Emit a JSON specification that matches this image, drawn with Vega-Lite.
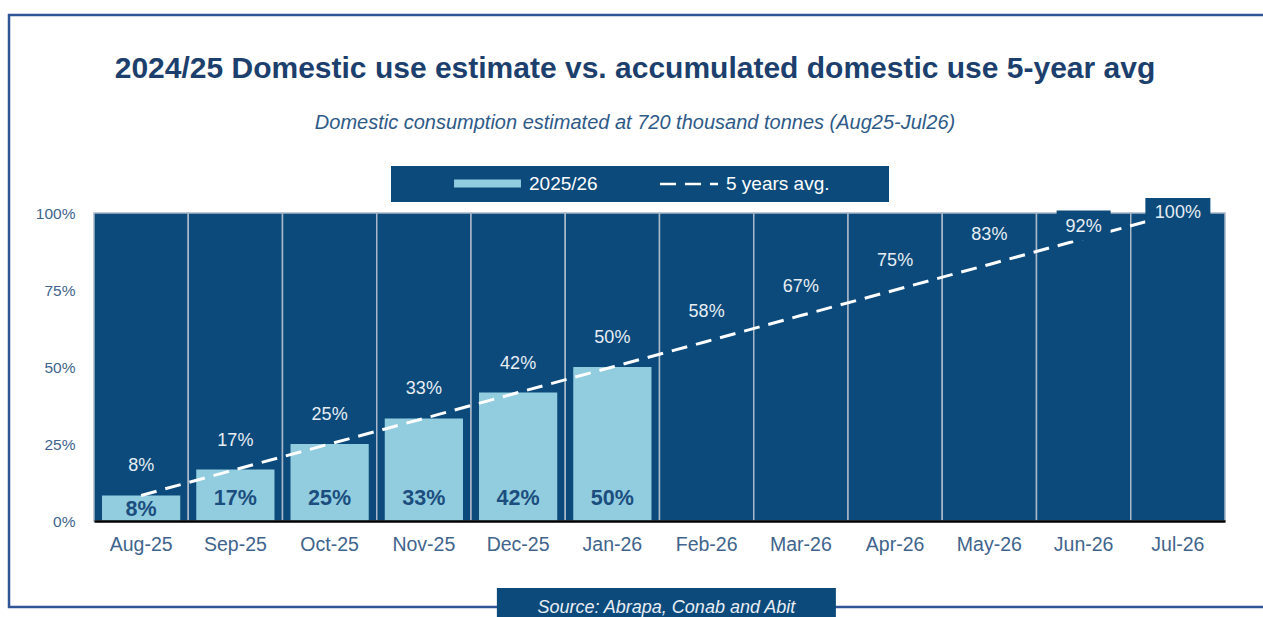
{
  "$schema": "https://vega.github.io/schema/vega-lite/v6.json",
  "width": 1268,
  "height": 592,
  "autosize": {"type": "none"},
  "padding": {"left": 9, "top": 15, "right": 0, "bottom": 10},
  "background": "white",
  "view": {"stroke": "#2F5597", "strokeWidth": 2.5, "fill": "white"},
  "title": {
    "text": "2024/25 Domestic use estimate vs. accumulated domestic use 5-year avg",
    "subtitle": "Domestic consumption estimated at 720 thousand tonnes (Aug25-Jul26)",
    "anchor": "middle",
    "dx": -8,
    "offset": -118,
    "font": "Liberation Sans",
    "fontSize": 30,
    "fontWeight": "bold",
    "color": "#1C3F6E",
    "subtitleFont": "Liberation Sans",
    "subtitleFontSize": 20,
    "subtitleFontStyle": "italic",
    "subtitleColor": "#2E5A88",
    "subtitlePadding": 29
  },
  "data": {
    "values": [
      {"month": "Aug-25", "use": 0.083, "avg": 0.083},
      {"month": "Sep-25", "use": 0.167, "avg": 0.167},
      {"month": "Oct-25", "use": 0.25, "avg": 0.25},
      {"month": "Nov-25", "use": 0.333, "avg": 0.333},
      {"month": "Dec-25", "use": 0.417, "avg": 0.417},
      {"month": "Jan-26", "use": 0.5, "avg": 0.5},
      {"month": "Feb-26", "use": null, "avg": 0.583},
      {"month": "Mar-26", "use": null, "avg": 0.667},
      {"month": "Apr-26", "use": null, "avg": 0.75},
      {"month": "May-26", "use": null, "avg": 0.833},
      {"month": "Jun-26", "use": null, "avg": 0.917},
      {"month": "Jul-26", "use": null, "avg": 1.0}
    ]
  },
  "layer": [
    {
      "mark": {"type": "rect", "fill": "#0B4A7B", "stroke": "#A9B8C8", "strokeWidth": 1.5},
      "encoding": {
        "x": {
          "field": "month", "type": "nominal", "sort": null,
          "scale": {"range": [85, 1216], "paddingInner": 0, "paddingOuter": 0},
          "axis": {
            "title": null, "orient": "bottom", "offset": -86, "labelAngle": 0,
            "domain": true, "domainColor": "#000000", "domainWidth": 2.5,
            "ticks": false, "grid": false, "labelPadding": 14,
            "labelFont": "Liberation Sans", "labelFontSize": 19.5, "labelColor": "#41648C"
          }
        },
        "y": {
          "datum": 1, "type": "quantitative",
          "scale": {"domain": [0, 1], "range": [506, 198], "nice": false, "zero": false},
          "axis": {
            "title": null, "orient": "left", "offset": -85, "values": [0, 0.25, 0.5, 0.75, 1],
            "format": ".0%", "domain": false, "ticks": false, "grid": false, "labelPadding": 19,
            "labelFont": "Liberation Sans", "labelFontSize": 15.5, "labelColor": "#41648C"
          }
        },
        "y2": {"datum": 0}
      }
    },
    {
      "transform": [{"filter": "datum.use != null"}],
      "mark": {"type": "bar", "width": {"band": 0.83}},
      "encoding": {
        "x": {"field": "month", "type": "nominal", "sort": null},
        "y": {"field": "use", "type": "quantitative"},
        "y2": {"datum": 0},
        "color": {
          "datum": "2025/26",
          "scale": {"domain": ["2025/26"], "range": ["#92CDDF"]},
          "legend": {
            "orient": "none", "legendX": 382, "legendY": 151, "title": null,
            "fillColor": "#0B4A7B", "padding": 8, "symbolOffset": 79,
            "symbolType": "M-4,-0.48H4V0.48H-4Z", "symbolSize": 280, "symbolStrokeWidth": 0,
            "labelColor": "#FFFFFF", "labelFont": "Liberation Sans", "labelFontSize": 19, "labelOffset": 32
          }
        }
      }
    },
    {
      "mark": {"type": "line", "stroke": "#FFFFFF", "strokeWidth": 3},
      "encoding": {
        "x": {"field": "month", "type": "nominal", "sort": null},
        "y": {"field": "avg", "type": "quantitative"},
        "strokeDash": {
          "datum": "5 years avg.",
          "scale": {"domain": ["5 years avg."], "range": [[16, 9]]},
          "legend": {
            "orient": "none", "legendX": 591, "legendY": 151,
            "title": "\u00a0", "titleOrient": "right", "titlePadding": 52, "titleFontSize": 8,
            "fillColor": "#0B4A7B", "padding": 8, "symbolOffset": 71,
            "symbolType": "M-3.5,0H3.5", "symbolSize": 275, "symbolStrokeColor": "#FFFFFF", "symbolStrokeWidth": 2.5,
            "labelColor": "#FFFFFF", "labelFont": "Liberation Sans", "labelFontSize": 19, "labelOffset": 27
          }
        }
      }
    },
    {
      "transform": [{"filter": "datum.use != null && datum.month != 'Aug-25'"}],
      "mark": {"type": "text", "dy": -22, "font": "Liberation Sans", "fontSize": 21.5, "fontWeight": "bold", "color": "#1B4E7E"},
      "encoding": {
        "x": {"field": "month", "type": "nominal", "sort": null},
        "y": {"datum": 0},
        "text": {"field": "use", "type": "quantitative", "format": ".0%"}
      }
    },
    {
      "transform": [{"filter": "datum.month == 'Aug-25'"}],
      "mark": {"type": "text", "dy": -11, "font": "Liberation Sans", "fontSize": 21.5, "fontWeight": "bold", "color": "#1B4E7E"},
      "encoding": {
        "x": {"field": "month", "type": "nominal", "sort": null},
        "y": {"datum": 0},
        "text": {"field": "use", "type": "quantitative", "format": ".0%"}
      }
    },
    {
      "transform": [{"filter": "datum.avg < 0.9"}],
      "mark": {"type": "text", "dy": -29, "font": "Liberation Sans", "fontSize": 18, "color": "#E8EEF4"},
      "encoding": {
        "x": {"field": "month", "type": "nominal", "sort": null},
        "y": {"field": "avg", "type": "quantitative"},
        "text": {"field": "avg", "type": "quantitative", "format": ".0%"}
      }
    },
    {
      "transform": [{"filter": "datum.month == 'Jun-26'"}],
      "mark": {"type": "tick", "orient": "horizontal", "size": 54, "thickness": 30, "yOffset": -13, "color": "#0B4A7B", "opacity": 1},
      "encoding": {
        "x": {"field": "month", "type": "nominal", "sort": null},
        "y": {"field": "avg", "type": "quantitative"}
      }
    },
    {
      "transform": [{"filter": "datum.month == 'Jul-26'"}],
      "mark": {"type": "tick", "orient": "horizontal", "size": 65, "thickness": 30, "color": "#0B4A7B", "opacity": 1},
      "encoding": {
        "x": {"field": "month", "type": "nominal", "sort": null},
        "y": {"field": "avg", "type": "quantitative"}
      }
    },
    {
      "transform": [{"filter": "datum.month == 'Jun-26'"}],
      "mark": {"type": "text", "dy": -12, "font": "Liberation Sans", "fontSize": 18, "color": "#E8EEF4"},
      "encoding": {
        "x": {"field": "month", "type": "nominal", "sort": null},
        "y": {"field": "avg", "type": "quantitative"},
        "text": {"field": "avg", "type": "quantitative", "format": ".0%"}
      }
    },
    {
      "transform": [{"filter": "datum.month == 'Jul-26'"}],
      "mark": {"type": "text", "dy": 0, "font": "Liberation Sans", "fontSize": 18, "color": "#E8EEF4"},
      "encoding": {
        "x": {"field": "month", "type": "nominal", "sort": null},
        "y": {"field": "avg", "type": "quantitative"},
        "text": {"field": "avg", "type": "quantitative", "format": ".0%"}
      }
    },
    {
      "data": {"values": [{"source": "Source: Abrapa, Conab and Abit"}]},
      "mark": {"type": "bar", "width": 339, "xOffset": 54, "fill": "#0B4A7B"},
      "encoding": {
        "x": {"datum": "Jan-26", "type": "nominal"},
        "y": {"datum": -0.2175, "type": "quantitative"},
        "y2": {"datum": -0.45}
      }
    },
    {
      "data": {"values": [{"source": "Source: Abrapa, Conab and Abit"}]},
      "mark": {"type": "text", "xOffset": 54, "baseline": "alphabetic", "font": "Liberation Sans", "fontSize": 18, "fontStyle": "italic", "color": "#E8EEF4"},
      "encoding": {
        "x": {"datum": "Jan-26", "type": "nominal"},
        "y": {"datum": -0.3, "type": "quantitative"},
        "text": {"field": "source", "type": "nominal"}
      }
    }
  ]
}
